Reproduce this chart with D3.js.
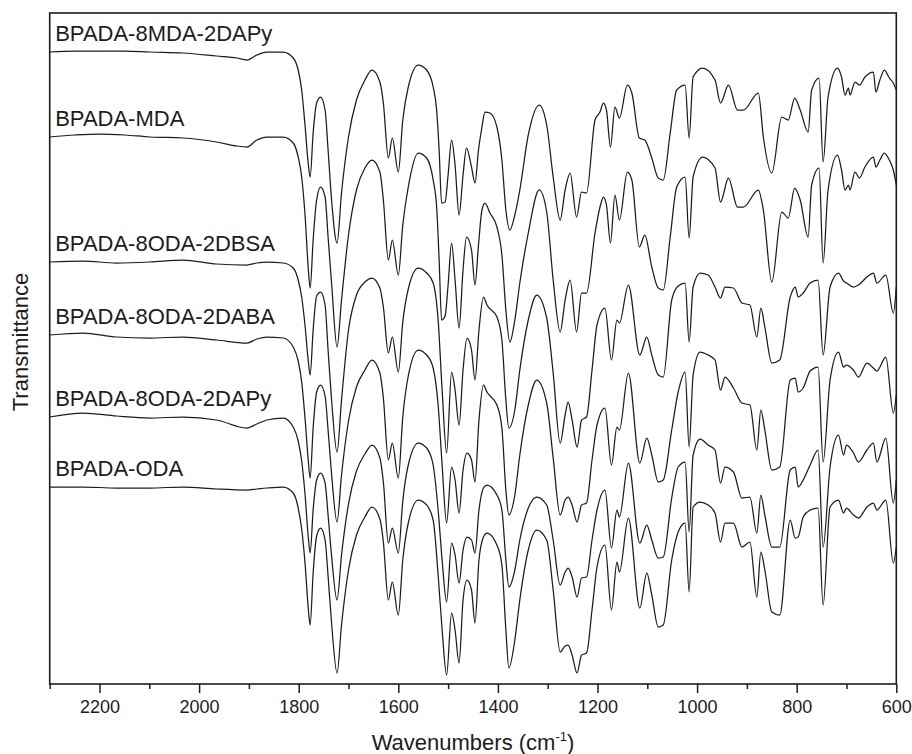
<!DOCTYPE html>
<html><head><meta charset="utf-8">
<script src="https://cdn.jsdelivr.net/npm/d3@7"></script>
<style>body{margin:0;background:#fff;} text{font-family:"Liberation Sans",Arial,Helvetica,sans-serif;}</style>
</head><body><svg id="c" width="912" height="754"></svg>
<script>
// ---------- DATA ----------
const seriesNames = ["BPADA-8MDA-2DAPy","BPADA-MDA","BPADA-8ODA-2DBSA","BPADA-8ODA-2DABA","BPADA-8ODA-2DAPy","BPADA-ODA"];

// wavenumber grid (cm-1) for the MDA-based films
const wnMDA = [2300,2249,2199,2149,2099,2032,1965,1924,1904,1884,
1864,1831,1811,1801,1794,1787,1781,1777,1771,1764,
1756,1747,1741,1734,1723,1714,1700,1684,1667,1653,
1637,1630,1620,1612,1600,1591,1580,1560,1543,1530,
1523,1518,1513,1506,1500,1493,1486,1478,1470,1463,
1453,1446,1439,1432,1426,1416,1402,1392,1384,1376,
1366,1356,1339,1317,1302,1289,1275,1265,1255,1242,
1232,1222,1205,1195,1188,1182,1174,1165,1156,1140,
1131,1116,1105,1091,1078,1068,1054,1041,1024,1016,
1008,989,964,953,937,919,907,877,867,850,
830,817,804,793,777,770,755,747,737,718,
710,703,696,693,683,674,663,646,641,633,
624,614,606,600];

// transmittance (a.u., stacked) BPADA-8MDA-2DAPy
const tMDA_DAPy = [63.2,63.3,63.3,63.3,63.2,63.1,62.8,62.6,62.4,62.9,
63.2,63.2,62.6,61.4,59.4,55.7,52.1,50.7,55.1,58.1,
58.7,57.4,53.4,48.4,44.1,49.1,54.7,58.4,60.4,61.4,
60.2,58.1,52.6,54.6,51.2,56.4,59.7,61.9,61.4,59.7,
57.4,53.4,48.1,48.2,50.9,54.4,51.9,46.9,50.9,53.6,
51.7,50.1,53.4,55.7,57.2,57.1,55.7,52.4,47.4,45.4,
46.9,49.4,54.9,57.9,55.9,50.7,46.4,49.4,51.1,46.7,
49.2,49.1,56.4,57.2,58.1,57.4,53.7,57.7,56.6,59.9,
59.1,54.6,54.4,52.6,50.6,50.4,55.1,59.4,59.9,54.6,
60.7,61.6,60.4,58.1,59.9,57.4,57.4,59.1,54.7,51.1,
56.7,56.4,58.6,57.4,55.2,59.4,60.6,52.2,58.7,61.6,
60.7,58.9,59.6,58.9,60.2,59.9,60.7,61.2,59.2,60.4,
61.4,60.6,60.1,59.4];

// BPADA-MDA
const tMDA = [54.7,54.9,55.0,54.9,54.7,54.6,54.2,53.8,53.7,54.4,
54.7,54.7,54.1,52.7,50.7,46.7,41.7,39.6,44.4,48.4,
49.7,48.7,44.7,40.1,33.7,38.4,44.9,49.4,51.6,52.4,
51.2,48.4,42.4,44.4,40.9,45.9,49.7,53.1,52.6,50.4,
47.7,42.4,36.4,36.8,39.9,44.1,40.4,35.6,41.4,44.7,
43.4,39.9,43.9,47.4,48.1,47.1,45.7,42.9,37.4,34.2,
36.4,40.1,45.1,49.4,47.2,40.4,35.2,38.4,40.4,35.2,
39.1,39.1,45.1,47.7,48.7,47.9,44.1,48.9,46.4,51.2,
50.4,43.7,44.9,41.7,39.6,39.4,44.7,49.7,50.7,44.6,
50.7,52.7,51.6,48.2,50.6,47.7,47.7,49.4,47.4,40.2,
47.2,46.6,49.6,48.4,44.7,49.9,51.6,42.1,49.4,52.9,
51.4,49.4,49.9,49.4,51.2,50.6,51.7,52.7,51.7,52.4,
53.1,52.4,51.4,49.9];

// wavenumber grid (cm-1) for the ODA-based films
const wnODA = [2300,2233,2166,2099,2032,1965,1904,1884,1864,1831,
1811,1801,1794,1787,1781,1777,1771,1764,1756,1747,
1741,1734,1723,1714,1700,1684,1667,1653,1637,1630,
1620,1612,1600,1591,1580,1560,1543,1530,1520,1512,
1503,1493,1486,1478,1470,1462,1453,1446,1438,1429,
1422,1402,1392,1384,1378,1366,1356,1339,1322,1302,
1289,1275,1265,1259,1251,1241,1232,1222,1211,1201,
1185,1172,1161,1156,1138,1115,1101,1091,1078,1068,
1051,1038,1024,1016,1008,994,978,964,953,944,
927,910,894,880,872,864,850,834,813,803,
797,787,773,757,747,733,716,706,700,686,
676,659,646,639,621,606,600];

// BPADA-8ODA-2DBSA
const tODA_DBSA = [42.2,42.3,42.1,42.2,42.4,42.0,41.9,42.1,42.2,42.1,
41.6,40.4,38.7,35.7,32.4,30.9,35.4,38.8,39.2,37.9,
33.4,28.4,23.2,28.4,35.4,38.9,40.2,40.6,39.6,37.7,
33.1,34.7,31.2,36.2,39.5,41.6,41.1,40.1,36.4,29.4,
23.1,31.2,29.4,25.9,31.4,34.6,33.4,30.4,35.4,38.7,
37.9,36.7,34.4,28.4,25.6,27.4,31.4,36.4,38.9,36.6,
31.1,24.1,26.9,28.2,26.4,23.7,26.4,26.7,31.4,35.9,
37.6,32.4,36.4,36.1,39.9,32.9,34.7,32.9,30.9,30.7,
38.4,39.8,40.1,34.2,39.7,41.1,40.9,39.7,38.6,39.7,
39.6,38.1,37.9,34.7,37.6,35.7,32.1,32.4,38.7,39.7,
38.7,39.1,40.1,40.4,32.9,39.7,41.1,40.3,40.1,39.7,
39.9,40.7,41.1,40.1,40.9,37.1,39.7];

// BPADA-8ODA-2DABA
const tODA_DABA = [34.9,35.1,34.7,34.6,34.7,34.4,34.1,34.5,34.7,34.6,
33.7,32.3,30.2,26.4,22.5,20.6,25.6,29.2,29.9,28.8,
25.4,21.0,16.2,20.9,26.3,29.7,31.4,32.4,31.1,28.6,
22.4,24.1,20.6,26.7,30.8,33.4,32.9,31.6,27.9,21.9,
16.1,21.7,20.4,17.1,21.4,23.1,22.4,20.2,26.4,29.9,
29.2,27.9,25.6,19.4,16.9,18.9,22.9,27.9,30.4,28.1,
22.6,16.9,18.4,18.7,17.9,16.2,17.9,18.1,22.4,25.9,
27.6,21.9,25.7,25.4,31.1,22.1,24.6,22.9,20.2,20.4,
25.4,29.2,31.2,23.7,30.9,33.2,32.9,32.4,29.4,30.7,
29.6,28.1,27.9,23.4,27.4,25.4,21.4,21.7,30.4,30.6,
29.2,29.6,31.3,31.7,22.2,30.4,33.2,31.7,31.9,31.4,
30.7,32.1,31.6,31.3,32.7,27.1,28.9];

// BPADA-8ODA-2DAPy
const tODA_DAPy = [26.7,27.1,26.8,26.6,26.7,26.4,25.6,26.0,26.4,26.6,
25.7,24.3,22.3,18.8,14.8,13.1,17.4,20.4,21.1,20.1,
16.9,12.8,8.4,12.9,18.0,21.3,23.0,23.9,22.6,20.2,
14.1,15.6,13.1,18.3,21.9,24.1,23.6,21.9,17.4,12.4,
8.2,14.1,12.9,10.1,13.4,14.7,14.4,13.1,17.4,19.6,
19.9,18.9,17.4,12.4,9.7,11.4,14.4,17.6,18.7,17.9,
14.4,9.9,11.2,11.6,10.7,8.7,10.6,10.7,14.4,17.4,
19.4,13.6,17.4,16.7,22.1,14.1,15.9,14.4,12.6,12.7,
18.6,21.7,22.2,15.2,22.9,24.5,23.9,23.4,20.1,21.7,
21.2,18.6,18.7,15.1,18.9,16.9,13.7,13.7,21.4,21.7,
19.7,20.4,21.9,23.4,13.7,21.7,24.9,22.9,23.9,23.1,
22.2,23.4,24.1,22.2,24.6,18.1,20.4];

// BPADA-ODA
const tODA = [19.7,19.7,19.6,19.6,19.7,19.5,19.4,19.5,19.6,19.7,
19.1,17.6,15.5,11.9,7.7,5.9,11.1,14.8,15.6,14.4,
10.8,6.1,1.1,5.9,11.4,14.9,16.7,17.7,16.5,14.2,
8.4,10.2,6.9,12.4,16.1,18.4,17.9,16.4,10.9,5.4,
0.9,7.1,5.4,2.1,8.4,10.4,9.4,6.1,12.4,14.7,
15.1,13.9,11.9,5.4,1.6,4.4,8.4,13.4,15.4,14.4,
9.4,3.2,3.8,3.9,2.9,1.1,2.9,3.1,7.4,11.7,
13.9,7.4,12.2,11.2,16.6,7.6,11.1,8.9,5.7,5.9,
12.4,15.2,16.1,9.2,17.7,18.2,17.9,17.1,14.2,16.1,
16.1,13.7,14.2,8.7,13.2,11.4,7.2,6.9,16.4,14.6,
14.7,16.7,17.4,17.6,7.9,17.7,18.4,17.1,17.6,16.9,
16.6,17.7,18.1,17.4,18.4,12.1,13.7];

const xMajorTicks = [2200,2000,1800,1600,1400,1200,1000,800,600];
const xMinorTicks = [2300,2100,1900,1700,1500,1300,1100,900,700];

// ---------- CHART ----------
const svg = d3.select("#c");
const x = d3.scaleLinear().domain([2300,600]).range([49.7,896.3]);
const y = d3.scaleLinear().domain([0,67.1]).range([684,13]);

const series = [
  {name:seriesNames[0], wn:wnMDA, t:tMDA_DAPy},
  {name:seriesNames[1], wn:wnMDA, t:tMDA},
  {name:seriesNames[2], wn:wnODA, t:tODA_DBSA},
  {name:seriesNames[3], wn:wnODA, t:tODA_DABA},
  {name:seriesNames[4], wn:wnODA, t:tODA_DAPy},
  {name:seriesNames[5], wn:wnODA, t:tODA}
];

const line = d3.line().x(d=>x(d[0])).y(d=>y(d[1])).curve(d3.curveMonotoneX);

const gLines = svg.append("g");
series.forEach(s=>{
  const n = Math.min(s.wn.length, s.t.length);
  const pts = d3.range(n).map(i=>[s.wn[i], s.t[i]]);
  gLines.append("path").attr("d", line(pts))
    .attr("fill","none").attr("stroke","#1c1c1c").attr("stroke-width",1.25)
    .attr("stroke-linejoin","round");
  svg.append("text").attr("x", x(2289)).attr("y", y(s.t[0]) - 11)
    .attr("font-size",22).attr("fill","#1c1c1c").text(s.name);
});

// frame
svg.append("rect").attr("x",x(2300)).attr("y",y(67.1))
  .attr("width",x(600)-x(2300)).attr("height",y(0)-y(67.1))
  .attr("fill","none").attr("stroke","#1c1c1c").attr("stroke-width",1.6);

// x axis
const gx = svg.append("g").attr("transform",`translate(0,${y(0)})`)
  .call(d3.axisBottom(x).tickValues(xMajorTicks).tickSize(9).tickPadding(7).tickFormat(d3.format("d")));
gx.select(".domain").remove();
gx.selectAll(".tick line").attr("stroke","#1c1c1c").attr("stroke-width",1.5);
gx.selectAll(".tick text").attr("font-size",18).attr("fill","#1c1c1c")
  .attr("font-family",'"Liberation Sans",Arial,sans-serif');
const gxm = svg.append("g").attr("transform",`translate(0,${y(0)})`)
  .call(d3.axisBottom(x).tickValues(xMinorTicks).tickSize(5).tickFormat(""));
gxm.select(".domain").remove();
gxm.selectAll(".tick line").attr("stroke","#1c1c1c").attr("stroke-width",1.5);

// axis titles
const xt = svg.append("text").attr("x",(x(2300)+x(600))/2).attr("y",750)
  .attr("text-anchor","middle").attr("font-size",22).attr("fill","#1c1c1c");
xt.append("tspan").text("Wavenumbers (cm");
xt.append("tspan").attr("font-size",13).attr("dy",-9).text("-1");
xt.append("tspan").attr("dy",9).text(")");

svg.append("text").attr("transform",`translate(28,342) rotate(-90)`)
  .attr("text-anchor","middle").attr("font-size",22).attr("fill","#1c1c1c")
  .text("Transmittance");
</script>
</body></html>
